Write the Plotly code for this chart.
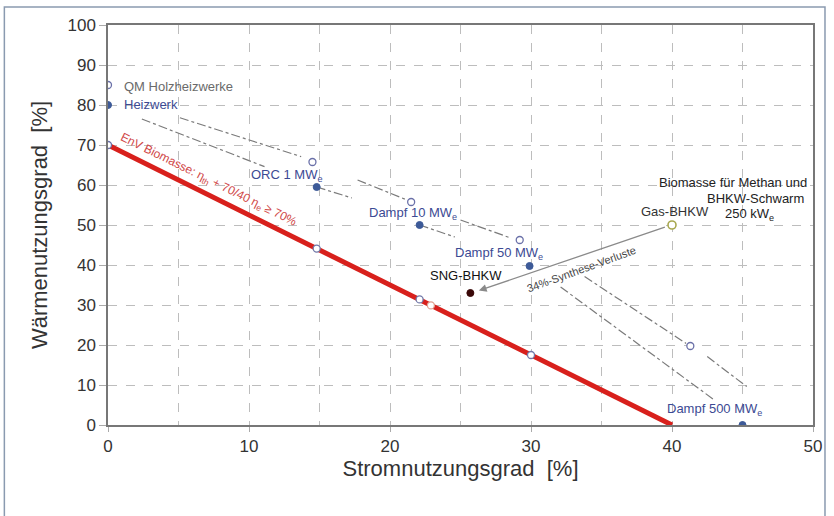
import plotly.graph_objects as go

# ---------------- data ----------------
red_x = [0, 40]
red_y = [70, 0]

open_x = [0, 0, 14.5, 21.5, 29.2, 41.3]
open_y = [85, 70, 65.75, 55.75, 46.25, 19.75]

filled_x = [0, 14.8, 22.1, 29.9, 45.0]
filled_y = [80, 59.5, 50, 39.75, 0]

online_x = [14.8, 22.1, 30.0]
online_y = [44.1, 31.4, 17.5]
online2_x = [22.9]
online2_y = [29.9]

gas_x = [40.0]
gas_y = [50.0]
sng_x = [25.7]
sng_y = [33.0]

# dash-dot guide lines (segments interrupted by labels)
upper_x = [5.1, 13.7, None, 17.7, 21.2, None, 25.0, 28.6, None, 33.8, 41.0, None, 42.5, 45.3]
upper_y = [76.8, 67.1, None, 61.25, 56.25, None, 51.25, 46.7, None, 37.1, 20.4, None, 17.1, 9.6]
lower_x = [2.4, 11.1, None, 14.8, 17.3, None, 22.1, 24.6, None, 32.1, 43.0]
lower_y = [76.5, 64.6, None, 59.5, 56.75, None, 50.0, 47.0, None, 34.5, 6.25]

labels = ["QM Holzheizwerke", "Heizwerk", "ORC 1 MW<sub>e</sub>", "Dampf 10 MW<sub>e</sub>",
          "Dampf 50 MW<sub>e</sub>", "Dampf 500 MW<sub>e</sub>", "SNG-BHKW", "Gas-BHKW",
          "Biomasse für Methan und", "BHKW-Schwarm", "250 kW<sub>e</sub>"]
label_x = [1.0, 1.0, 12.7, 21.6, 27.7, 43.0, 25.4, 40.2, 44.3, 45.9, 45.5]
label_y = [84.75, 80.25, 62.5, 53.0, 43.0, 4.0, 37.5, 53.5, 60.75, 56.75, 52.75]
label_color = ["#6a6a6a", "#3c4a93", "#3c4a93", "#3c4a93", "#3c4a93", "#3c4a93",
               "#111111", "#333333", "#222222", "#222222", "#222222"]
label_anchor = ["left", "left", "center", "center", "center", "center",
                "center", "center", "center", "center", "center"]

arrow_head = (26.3, 33.6)
arrow_tail = (39.6, 49.6)
arrow_label = "34%-Synthese-Verluste"
arrow_label_pos = (33.6, 39.0)

red_label = "EnV Biomasse: η<sub>th</sub> + 70/40 η<sub>e</sub> ≥ 70%"
red_label_pos = (7.1, 61.3)

x_ticks = [0, 10, 20, 30, 40, 50]
y_ticks = [0, 10, 20, 30, 40, 50, 60, 70, 80, 90, 100]

# ---------------- figure ----------------
fig = go.Figure()

fig.add_trace(go.Scatter(x=upper_x, y=upper_y, mode="lines",
                         line=dict(color="#7a7a7a", width=1.2, dash="dashdot"),
                         hoverinfo="skip"))
fig.add_trace(go.Scatter(x=lower_x, y=lower_y, mode="lines",
                         line=dict(color="#7a7a7a", width=1.2, dash="dashdot"),
                         hoverinfo="skip"))

fig.add_trace(go.Scatter(x=red_x, y=red_y, mode="lines",
                         line=dict(color="#d8201c", width=5)))

fig.add_trace(go.Scatter(x=open_x, y=open_y, mode="markers",
                         marker=dict(size=7, color="white",
                                     line=dict(color="#6a70a8", width=1.3))))
fig.add_trace(go.Scatter(x=online_x, y=online_y, mode="markers",
                         marker=dict(size=7, color="white",
                                     line=dict(color="#7078a8", width=1.3))))
fig.add_trace(go.Scatter(x=online2_x, y=online2_y, mode="markers",
                         marker=dict(size=7, color="white",
                                     line=dict(color="#e0a090", width=1.3))))
fig.add_trace(go.Scatter(x=filled_x, y=filled_y, mode="markers",
                         marker=dict(size=7, color="#3d5a98",
                                     line=dict(color="#3d5a98", width=1))))
fig.add_trace(go.Scatter(x=gas_x, y=gas_y, mode="markers",
                         marker=dict(size=8, color="white",
                                     line=dict(color="#a8a850", width=1.6))))
fig.add_trace(go.Scatter(x=sng_x, y=sng_y, mode="markers",
                         marker=dict(size=7, color="#3a0808",
                                     line=dict(color="#3a0808", width=1))))

annotations = []
for t, x, y, c, a in zip(labels, label_x, label_y, label_color, label_anchor):
    annotations.append(dict(x=x, y=y, text=t, showarrow=False, xanchor=a, yanchor="middle",
                            font=dict(size=13, color=c, family="Liberation Sans, Arial")))

annotations.append(dict(x=arrow_head[0], y=arrow_head[1], ax=arrow_tail[0], ay=arrow_tail[1],
                        xref="x", yref="y", axref="x", ayref="y", text="", showarrow=True,
                        arrowhead=2, arrowsize=1.2, arrowwidth=1.3, arrowcolor="#8a8a8a"))
annotations.append(dict(x=arrow_label_pos[0], y=arrow_label_pos[1], text=arrow_label,
                        showarrow=False, textangle=-20,
                        font=dict(size=11, color="#444", family="Liberation Sans, Arial")))
annotations.append(dict(x=red_label_pos[0], y=red_label_pos[1], text=red_label,
                        showarrow=False, textangle=26.3,
                        font=dict(size=12, color="#d04848", family="Liberation Sans, Arial")))

fig.update_layout(
    width=834, height=516,
    margin=dict(l=108, r=17, t=25, b=91),
    paper_bgcolor="white", plot_bgcolor="white",
    showlegend=False,
    annotations=annotations,
    font=dict(family="Liberation Sans, Arial", color="#333"),
    shapes=[dict(type="rect", xref="paper", yref="paper",
                 x0=-0.147, x1=1.017, y0=-0.23, y1=1.045,
                 line=dict(color="#8a9ab0", width=1.5), layer="below")],
)

fig.update_xaxes(
    range=[0, 50], tickvals=x_ticks, ticktext=[str(v) for v in x_ticks],
    showline=True, linecolor="#777", linewidth=1.5, mirror=True,
    showgrid=True, gridcolor="#bdbdbd", griddash="dash", gridwidth=1,
    minor=dict(dtick=5, showgrid=True, gridcolor="#bdbdbd", griddash="dash"),
    ticks="outside", ticklen=5, tickcolor="#aaa",
    tickfont=dict(size=17, color="#333"),
    zeroline=False,
    title=dict(text="Stromnutzungsgrad  [%]", font=dict(size=22, color="#333"), standoff=2),
)
fig.update_yaxes(
    range=[0, 100], tickvals=y_ticks, ticktext=[str(v) for v in y_ticks],
    showline=True, linecolor="#777", linewidth=1.5, mirror=True,
    showgrid=True, gridcolor="#bdbdbd", griddash="dash", gridwidth=1,
    ticks="outside", ticklen=7, tickcolor="#aaa",
    tickfont=dict(size=17, color="#333"),
    zeroline=False,
    title=dict(text="Wärmenutzungsgrad  [%]", font=dict(size=22, color="#333"), standoff=14),
)

fig.write_html("out.html")
